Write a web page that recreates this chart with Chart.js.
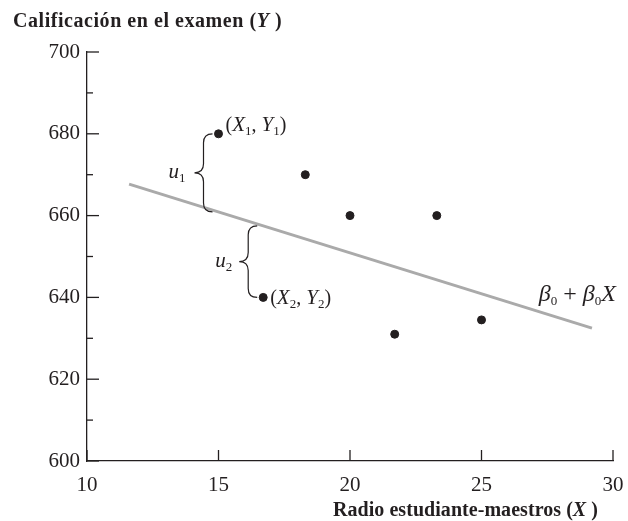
<!DOCTYPE html>
<html>
<head>
<meta charset="utf-8">
<script src="https://cdn.jsdelivr.net/npm/chart.js@4.4.1/dist/chart.umd.min.js"></script>
<style>
  html, body { margin: 0; padding: 0; background: #fff; }
  #wrap { width: 628px; height: 521px; }
</style>
</head>
<body>
<div id="wrap"><canvas id="chart" width="628" height="521"></canvas></div>
<script>
// observations: student-teacher ratio vs test score
const ratioX = [15, 18.3, 20, 23.3, 16.7, 21.7, 25]
const scoreY = [680, 670, 660, 660, 640, 631, 634.5]

// regression line endpoints
const lineX = [11.6, 29.2]
const lineY = [667.7, 632.5]

const xTicks = [10, 15, 20, 25, 30]
const yTicks = [600, 620, 640, 660, 680, 700]

const yTitle = ['Calificación en el examen (', 'Y', ' )']
const xTitle = ['Radio estudiante-maestros (', 'X', ' )']

const SERIF = "'Liberation Serif', 'DejaVu Serif', serif"
const INK = '#231f20'

function lineAt(x) {
  const slope = (lineY[1] - lineY[0]) / (lineX[1] - lineX[0])
  return lineY[0] + slope * (x - lineX[0])
}

// draw a run of text pieces: [text, font, dy]
function drawRich(ctx, parts, x, y, align, spacing) {
  ctx.letterSpacing = spacing || '0px'
  let total = 0
  parts.forEach(p => { ctx.font = p[1]; total += ctx.measureText(p[0]).width })
  let cx = align === 'right' ? x - total : x
  ctx.textAlign = 'left'
  ctx.textBaseline = 'alphabetic'
  parts.forEach(p => {
    ctx.font = p[1]
    ctx.fillText(p[0], cx, y + (p[2] || 0))
    cx += ctx.measureText(p[0]).width
  })
  ctx.letterSpacing = '0px'
}

function drawBrace(ctx, x, yTop, yBot) {
  const w = 9
  const ym = (yTop + yBot) / 2
  ctx.beginPath()
  ctx.moveTo(x + w, yTop)
  ctx.quadraticCurveTo(x, yTop, x, yTop + w)
  ctx.lineTo(x, ym - w)
  ctx.quadraticCurveTo(x, ym, x - w, ym)
  ctx.quadraticCurveTo(x, ym, x, ym + w)
  ctx.lineTo(x, yBot - w)
  ctx.quadraticCurveTo(x, yBot, x + w, yBot)
  ctx.stroke()
}

const decorPlugin = {
  id: 'decor',
  afterDraw(chart) {
    const ctx = chart.ctx
    const xs = chart.scales.x
    const ys = chart.scales.y
    const area = chart.chartArea
    ctx.save()
    ctx.strokeStyle = INK
    ctx.fillStyle = INK
    ctx.lineWidth = 1.3

    // inward tick marks
    ys.ticks.forEach(t => {
      const py = ys.getPixelForValue(t.value)
      const len = t.value % 20 === 0 ? 12 : 6
      ctx.beginPath()
      ctx.moveTo(area.left, py)
      ctx.lineTo(area.left + len, py)
      ctx.stroke()
    })
    xs.ticks.forEach(t => {
      const px = xs.getPixelForValue(t.value)
      ctx.beginPath()
      ctx.moveTo(px, area.bottom)
      ctx.lineTo(px, area.bottom - 11)
      ctx.stroke()
    })

    // axis titles
    const bold = 'bold 20px ' + SERIF
    const boldIt = 'italic bold 20px ' + SERIF
    drawRich(ctx, [[yTitle[0], bold], [yTitle[1], boldIt], [yTitle[2], bold]], 13, 27, 'left', '0.55px')
    drawRich(ctx, [[xTitle[0], bold], [xTitle[1], boldIt], [xTitle[2], bold]], 598, 516, 'right', '0.05px')

    // braces for residuals
    const it = 'italic 21px ' + SERIF
    const up = '20px ' + SERIF
    const sub = '13px ' + SERIF
    ctx.lineWidth = 1.2
    const x1 = xs.getPixelForValue(ratioX[0]) - 15
    drawBrace(ctx, x1, ys.getPixelForValue(scoreY[0]), ys.getPixelForValue(lineAt(ratioX[0])))
    const m1 = (ys.getPixelForValue(scoreY[0]) + ys.getPixelForValue(lineAt(ratioX[0]))) / 2
    drawRich(ctx, [['u', it], ['1', sub, 4]], x1 - 35, m1 + 5, 'left')

    const x2 = xs.getPixelForValue(ratioX[4]) - 15
    drawBrace(ctx, x2, ys.getPixelForValue(lineAt(ratioX[4])), ys.getPixelForValue(scoreY[4]))
    const m2 = (ys.getPixelForValue(scoreY[4]) + ys.getPixelForValue(lineAt(ratioX[4]))) / 2
    drawRich(ctx, [['u', it], ['2', sub, 4]], x2 - 33, m2 + 5, 'left')

    // point labels
    const p1x = xs.getPixelForValue(ratioX[0])
    const p1y = ys.getPixelForValue(scoreY[0])
    drawRich(ctx, [['(', up], ['X', it], ['1', sub, 4], [', ', up], ['Y', it], ['1', sub, 4], [')', up]], p1x + 7, p1y - 3, 'left')
    const p2x = xs.getPixelForValue(ratioX[4])
    const p2y = ys.getPixelForValue(scoreY[4])
    drawRich(ctx, [['(', up], ['X', it], ['2', sub, 4], [', ', up], ['Y', it], ['2', sub, 4], [')', up]], p2x + 7, p2y + 7, 'left')

    // regression label
    const ex = xs.getPixelForValue(lineX[1])
    const ey = ys.getPixelForValue(lineY[1])
    const big = 'italic 24px ' + SERIF
    drawRich(ctx, [['β', big], ['0', sub, 4], [' + ', '24px ' + SERIF], ['β', big], ['0', sub, 4], ['X', big]], ex + 24, ey - 27, 'right')
    ctx.restore()
  }
}

new Chart(document.getElementById('chart'), {
  type: 'scatter',
  data: {
    datasets: [
      {
        type: 'line',
        data: lineX.map((x, i) => ({ x, y: lineY[i] })),
        borderColor: '#aaaaaa',
        borderWidth: 3,
        pointRadius: 0,
        fill: false,
        order: 2
      },
      {
        data: ratioX.map((x, i) => ({ x, y: scoreY[i] })),
        backgroundColor: INK,
        borderColor: INK,
        pointRadius: 4,
        order: 1
      }
    ]
  },
  options: {
    responsive: false,
    animation: false,
    layout: { padding: { top: 52, left: 10, right: 15, bottom: 30 } },
    plugins: { legend: { display: false }, tooltip: { enabled: false } },
    scales: {
      x: {
        type: 'linear',
        min: 10,
        max: 30,
        afterBuildTicks: s => { s.ticks = xTicks.map(v => ({ value: v })) },
        afterFit: s => { s.height = 30; s.paddingLeft = 0; s.paddingRight = 0 },
        grid: { display: false, drawTicks: false },
        border: { display: true, color: INK, width: 1.3 },
        ticks: { padding: 12, color: INK, font: { family: SERIF, size: 21 }, maxRotation: 0 }
      },
      y: {
        type: 'linear',
        min: 600,
        max: 700,
        afterBuildTicks: s => {
          const t = []
          for (let i = 0; i < yTicks.length; i++) {
            t.push({ value: yTicks[i] })
            if (i < yTicks.length - 1) t.push({ value: yTicks[i] + 10 })
          }
          s.ticks = t
        },
        afterFit: s => { s.width = 77 },
        grid: { display: false, drawTicks: false },
        border: { display: true, color: INK, width: 1.3 },
        ticks: {
          padding: 7,
          autoSkip: false,
          color: INK,
          font: { family: SERIF, size: 21 },
          callback: v => (v % 20 === 0 ? v : '')
        }
      }
    }
  },
  plugins: [decorPlugin]
})
</script>
</body>
</html>
